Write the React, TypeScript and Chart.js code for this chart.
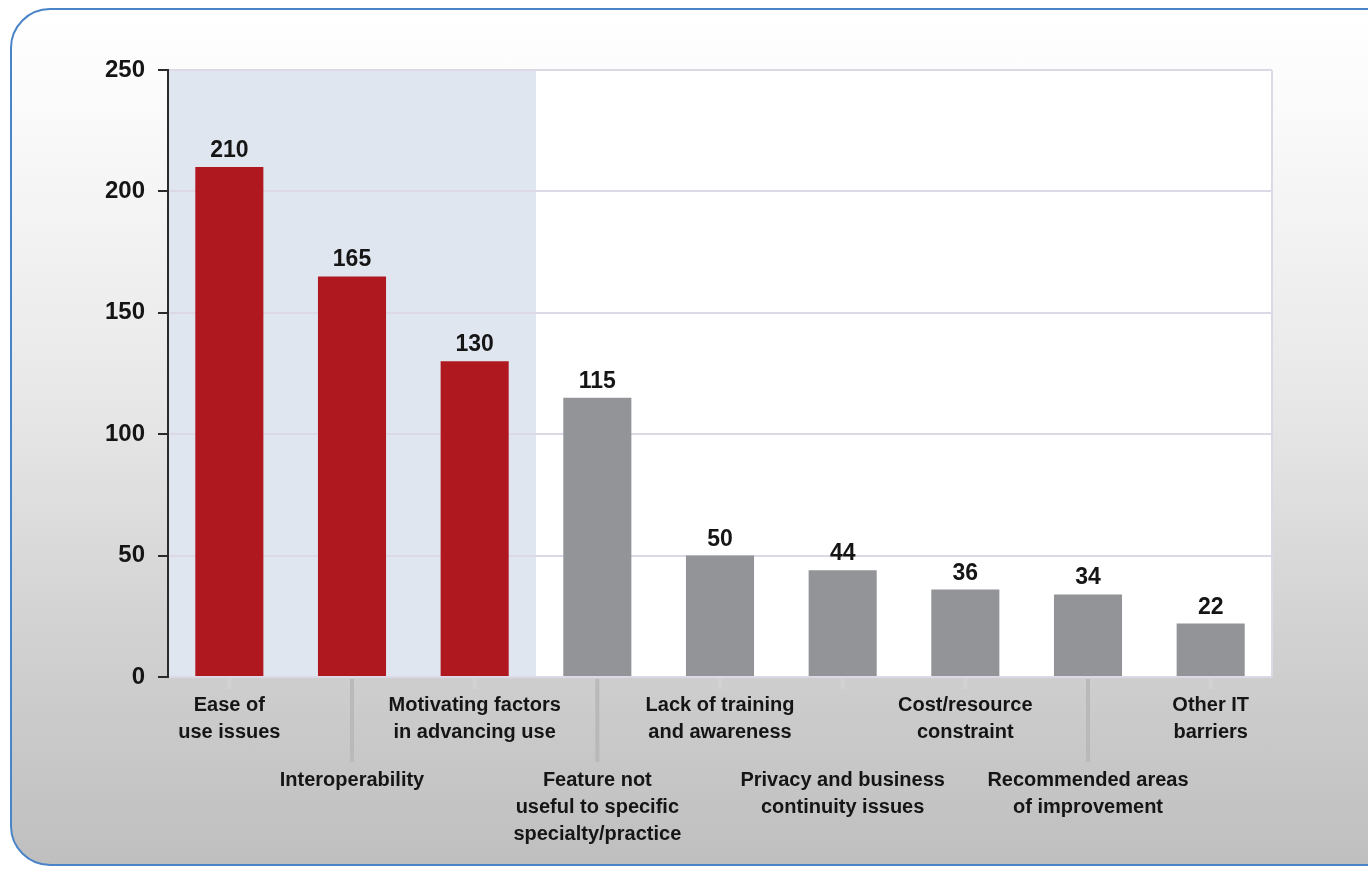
import React, { useEffect, useRef } from "react";
import { Chart, registerables } from "chart.js";

Chart.register(...registerables);

// ---- data ----
const categories: string[][] = [
  ["Ease of", "use issues"],
  ["Interoperability"],
  ["Motivating factors", "in advancing use"],
  ["Feature not", "useful to specific", "specialty/practice"],
  ["Lack of training", "and awareness"],
  ["Privacy and business", "continuity issues"],
  ["Cost/resource", "constraint"],
  ["Recommended areas", "of improvement"],
  ["Other IT", "barriers"],
];
const values: number[] = [210, 165, 130, 115, 50, 44, 36, 34, 22];
const highlightedCount = 3;
const yTickValues: number[] = [0, 50, 100, 150, 200, 250];
const lowerRow: boolean[] = [false, true, false, true, false, true, false, true, false];
const longLeader: boolean[] = [false, true, false, true, false, false, false, true, false];

const FONT = "'Liberation Sans Narrow', 'Liberation Sans', Arial, sans-serif";
const RED = "#b01820";
const GRAY = "#939497";

export default function App() {
  const canvasRef = useRef<HTMLCanvasElement | null>(null);

  useEffect(() => {
    const canvas = canvasRef.current;
    if (!canvas) return;

    const bgPlugin = {
      id: "plotBg",
      beforeDraw(chart: any) {
        const { ctx, chartArea } = chart;
        const x = chart.scales.x;
        ctx.save();
        ctx.fillStyle = "#ffffff";
        ctx.fillRect(chartArea.left, chartArea.top, chartArea.right - chartArea.left, chartArea.bottom - chartArea.top);
        const split = (x.getPixelForValue(highlightedCount - 1) + x.getPixelForValue(highlightedCount)) / 2;
        ctx.fillStyle = "#e0e6f0";
        ctx.fillRect(chartArea.left, chartArea.top, split - chartArea.left, chartArea.bottom - chartArea.top);
        ctx.strokeStyle = "#dcd8e6";
        ctx.lineWidth = 2;
        ctx.beginPath();
        ctx.moveTo(chartArea.right, chartArea.top);
        ctx.lineTo(chartArea.right, chartArea.bottom);
        ctx.stroke();
        ctx.restore();
      },
    };

    const labelPlugin = {
      id: "labels",
      afterDatasetsDraw(chart: any) {
        const { ctx, chartArea } = chart;
        const meta = chart.getDatasetMeta(0);
        ctx.save();
        ctx.font = `bold 23px ${FONT}`;
        ctx.fillStyle = "#151515";
        ctx.textAlign = "center";
        ctx.textBaseline = "alphabetic";
        meta.data.forEach((bar: any, i: number) => {
          ctx.fillText(String(values[i]), bar.x, bar.y - 10);
        });
        const xs = chart.scales.x;
        categories.forEach((lines, i) => {
          const cx = xs.getPixelForValue(i);
          ctx.lineWidth = 4;
          if (longLeader[i]) {
            ctx.strokeStyle = "#b9b9b9";
            ctx.beginPath();
            ctx.moveTo(cx, chartArea.bottom + 2);
            ctx.lineTo(cx, chartArea.bottom + 85);
            ctx.stroke();
          } else {
            ctx.strokeStyle = "#d2d2d2";
            ctx.beginPath();
            ctx.moveTo(cx, chartArea.bottom + 1);
            ctx.lineTo(cx, chartArea.bottom + 12);
            ctx.stroke();
          }
          const startY = chartArea.bottom + (lowerRow[i] ? 103 : 28);
          ctx.font = `bold 20px ${FONT}`;
          ctx.fillStyle = "#151515";
          ctx.textAlign = "center";
          ctx.textBaseline = "middle";
          lines.forEach((t, k) => {
            ctx.fillText(t, cx, startY + k * 27);
          });
        });
        ctx.restore();
      },
    };

    const chart = new Chart(canvas, {
      type: "bar",
      data: {
        labels: categories.map((c) => c.join(" ")),
        datasets: [
          {
            data: values,
            backgroundColor: values.map((_, i) => (i < highlightedCount ? RED : GRAY)),
            borderWidth: 0,
            categoryPercentage: 1,
            barPercentage: 0.555,
          },
        ],
      },
      options: {
        responsive: false,
        animation: false,
        events: [],
        layout: { padding: { top: 70, right: 96, left: 0, bottom: 0 } },
        plugins: { legend: { display: false }, tooltip: { enabled: false } },
        scales: {
          x: {
            grid: { display: false },
            border: { display: false },
            ticks: { display: false },
            afterFit: (s: any) => {
              s.height = 870 - 677;
            },
          },
          y: {
            min: 0,
            max: 250,
            afterBuildTicks: (s: any) => {
              s.ticks = yTickValues.map((v) => ({ value: v }));
            },
            afterFit: (s: any) => {
              s.width = 168;
            },
            grid: {
              color: "#dcd8e6",
              lineWidth: 2,
              tickColor: "#2a2a2a",
              tickLength: 10,
              tickWidth: 2,
            },
            border: { display: true, color: "#2a2a2a", width: 2 },
            ticks: {
              padding: 13,
              color: "#151515",
              font: { family: FONT, size: 24, weight: "bold" },
            },
          },
        },
      },
      plugins: [bgPlugin, labelPlugin],
    });

    return () => chart.destroy();
  }, []);

  return (
    <div style={{ position: "fixed", left: 0, top: 0, width: 1368, height: 870, overflow: "hidden", background: "#ffffff" }}>
      <div
        style={{
          position: "absolute",
          left: 10,
          top: 8,
          width: 1400,
          height: 858,
          borderRadius: 40,
          border: "2px solid #4a84c6",
          background: "linear-gradient(to bottom, #ffffff 0%, #fbfbfb 10%, #e8e8e8 45%, #d0d0d0 75%, #bfbfbf 100%)",
          boxSizing: "border-box",
        }}
      />
      <canvas ref={canvasRef} width={1368} height={870} style={{ position: "absolute", left: 0, top: 0, width: 1368, height: 870 }} />
    </div>
  );
}
